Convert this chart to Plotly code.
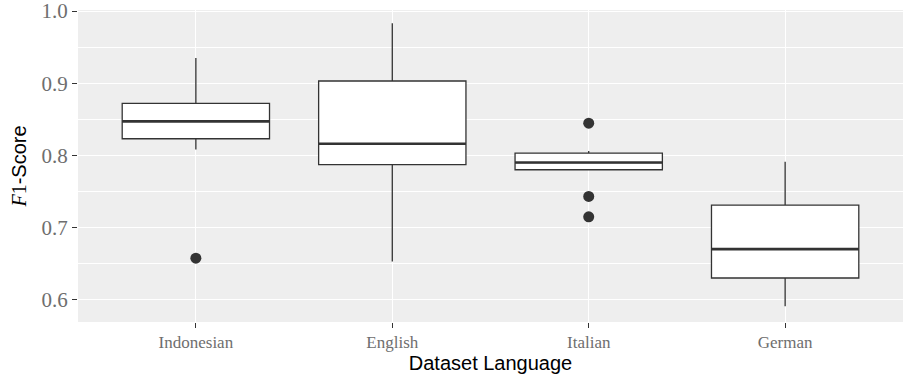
import plotly.graph_objects as go

# Box-plot summary statistics of F1-Score per dataset language
languages = ["Indonesian", "English", "Italian", "German"]
q1 = [0.823, 0.787, 0.780, 0.630]
median = [0.847, 0.816, 0.790, 0.670]
q3 = [0.872, 0.903, 0.803, 0.731]
lower_whisker = [0.808, 0.653, 0.779, 0.591]
upper_whisker = [0.935, 0.983, 0.806, 0.791]

# Outlying runs drawn as points
outlier_lang = ["Indonesian", "Italian", "Italian", "Italian"]
outlier_f1 = [0.6575, 0.8445, 0.743, 0.7147]

y_ticks = [0.6, 0.7, 0.8, 0.9, 1.0]

BOX_WIDTH = 0.75
INK = "#333333"
pos = list(range(len(languages)))

fig = go.Figure()

fig.add_trace(go.Box(
    x=pos,
    q1=q1, median=median, q3=q3,
    lowerfence=lower_whisker, upperfence=upper_whisker,
    width=BOX_WIDTH,
    whiskerwidth=0,
    fillcolor="white",
    line=dict(color=INK, width=1.3),
    boxpoints=False,
    hoverinfo="skip",
    showlegend=False,
))

# Thicker median bars, as in ggplot's boxplot
for i, m in zip(pos, median):
    fig.add_trace(go.Scatter(
        x=[i - BOX_WIDTH / 2, i + BOX_WIDTH / 2], y=[m, m],
        mode="lines", line=dict(color=INK, width=2.6),
        hoverinfo="skip", showlegend=False,
    ))

fig.add_trace(go.Scatter(
    x=[languages.index(l) for l in outlier_lang], y=outlier_f1,
    mode="markers",
    marker=dict(color=INK, size=11, line=dict(width=0)),
    hoverinfo="skip", showlegend=False,
))

serif = "Liberation Serif, DejaVu Serif, serif"
sans = "Liberation Sans, DejaVu Sans, sans-serif"

fig.update_layout(
    width=905, height=381,
    margin=dict(l=78, r=2, t=10, b=59),
    paper_bgcolor="white",
    plot_bgcolor="#EEEEEE",
    font=dict(family=sans, color="black"),
    xaxis=dict(
        range=[-0.6, 3.6],
        tickmode="array", tickvals=pos, ticktext=languages,
        showgrid=True, gridcolor="white", gridwidth=1.2,
        zeroline=False, showline=False, automargin=False,
        ticks="outside", ticklen=5, tickwidth=1, tickcolor=INK,
        tickfont=dict(family=serif, size=17, color="#6E6E6E"),
        title=dict(text="Dataset Language", font=dict(family=sans, size=20, color="black"), standoff=4),
    ),
    yaxis=dict(
        range=[0.569, 1.0014],
        tickmode="array", tickvals=y_ticks, ticktext=[f"{v:.1f}" for v in y_ticks],
        showgrid=True, gridcolor="white", gridwidth=1.2,
        minor=dict(tickmode="array", tickvals=[0.65, 0.75, 0.85, 0.95],
                   showgrid=True, gridcolor="white", gridwidth=0.6, ticks=""),
        zeroline=False, showline=False, automargin="left",
        ticklabeloverflow="allow",
        ticks="outside", ticklen=5, tickwidth=1, tickcolor=INK,
        tickfont=dict(family=serif, size=21, color="#6E6E6E"),
        title=dict(
            text="<span style='font-family:Liberation Serif'><i>F</i>1</span>-Score",
            font=dict(family=sans, size=20, color="black"), standoff=9,
        ),
    ),
)

fig.write_html("out.html")
